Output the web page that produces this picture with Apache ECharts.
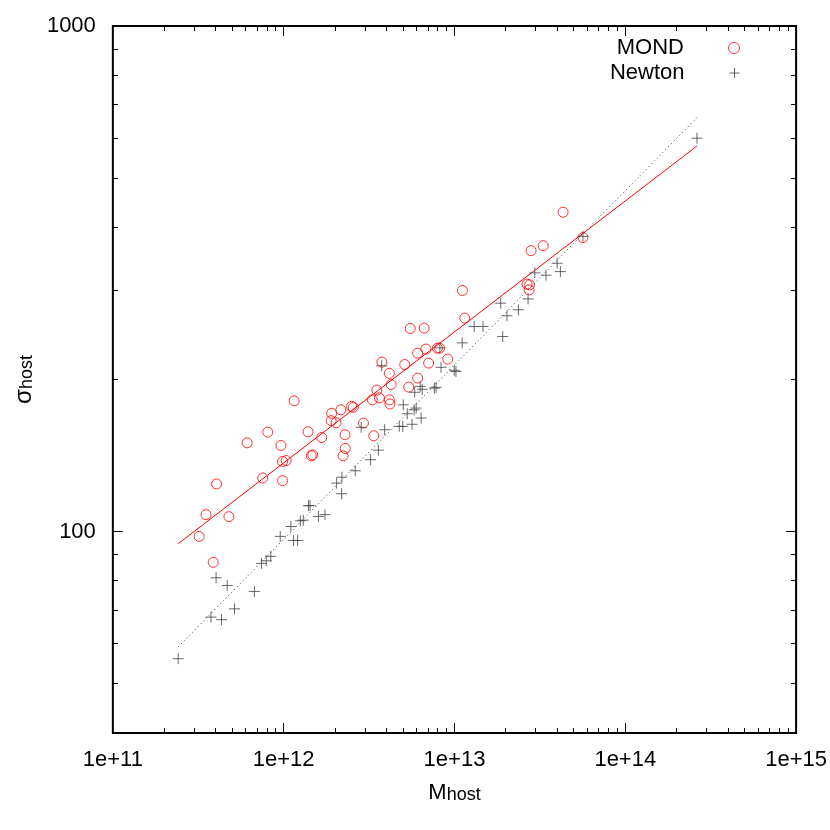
<!DOCTYPE html>
<html>
<head>
<meta charset="utf-8">
<script src="https://cdn.jsdelivr.net/npm/echarts@6/dist/echarts.min.js"></script>
<style>html,body{margin:0;padding:0;background:#fff}#chart{width:830px;height:830px}</style>
</head>
<body>
<div id="chart"></div>
<script>
// ---- data ----
const massMOND = [3.20e11,3.51e11,3.87e11,4.05e11,4.78e11,6.11e11,7.54e11,8.07e11,9.64e11,9.86e11,9.86e11,1.035e12,1.152e12,1.390e12,1.451e12,1.480e12,1.670e12,1.910e12,1.897e12,2.028e12,2.163e12,2.497e12,2.555e12,2.288e12,2.295e12,2.228e12,2.933e12,3.367e12,3.308e12,3.634e12,3.515e12,3.758e12,4.156e12,4.258e12,4.156e12,4.195e12,5.117e12,5.399e12,6.089e12,6.089e12,6.806e12,7.056e12,7.941e12,8.178e12,9.13e12,5.508e12,6.644e12,1.113e13,1.148e13,2.661e13,2.752e13,2.733e13,2.808e13,3.307e13,4.323e13,5.652e13];
const sigmaMOND = [97.9,108.1,87.0,124.3,107.1,149.9,127.7,157.4,148.1,126.2,137.7,138.3,181.5,157.6,141.3,141.9,153.6,171.5,165.8,164.3,174.2,177.0,176.2,155.5,146.1,141.3,164.0,154.8,182.3,183.9,190.6,216.5,205.7,195.5,182.3,178.9,214.1,193.2,201.3,225.5,229.7,215.5,230.7,230.7,219.5,252.3,252.7,299.9,264.5,308.7,307.7,300.8,359.5,367.9,428.3,381.6];
const massNewton = [2.413e11,3.755e11,4.022e11,4.329e11,4.673e11,5.153e11,6.74e11,7.42e11,7.906e11,8.407e11,9.548e11,1.102e12,1.143e12,1.207e12,1.252e12,1.303e12,1.397e12,1.427e12,1.598e12,1.746e12,2.184e12,2.042e12,2.193e12,2.624e12,3.229e12,3.585e12,2.844e12,3.902e12,3.748e12,4.753e12,4.981e12,5.643e12,6.381e12,5.013e12,5.291e12,5.81e12,5.968e12,5.85e12,6.297e12,6.469e12,7.627e12,7.803e12,8.344e12,9.973e12,1.02e13,1.11e13,8.211e12,1.304e13,1.469e13,1.865e13,1.916e13,2.03e13,2.368e13,2.697e13,2.954e13,3.434e13,3.99e13,4.17e13,5.652e13,2.627e14];
const sigmaNewton = [56.1,67.8,81.1,67.0,78.3,70.4,76.2,86.6,87.6,89.4,97.9,102.4,96.1,96.1,105.1,105.4,112.6,112.6,107.2,108.1,118.9,124.8,128.2,132.0,138.8,145.0,160.9,159.1,212.9,161.6,161.5,163.1,167.8,178.2,171.1,174.2,175.6,188.7,193.8,191.3,192.3,193.0,211.4,208.6,207.4,236.3,231.0,254.6,254.6,283.1,243.2,267.3,274.7,288.7,325.0,321.6,339.6,326.9,383.7,600.0];
// fitted relations (end points)
const fitMass = [2.413e11, 2.627e14];
const fitSigmaMOND = [94.7, 579];
const fitSigmaNewton = [59.2, 659];
// axes
const xMajorTicks = [1e11,1e12,1e13,1e14,1e15];
const xMinorTicks = [2e11,3e11,4e11,5e11,6e11,7e11,8e11,9e11,2e12,3e12,4e12,5e12,6e12,7e12,8e12,9e12,2e13,3e13,4e13,5e13,6e13,7e13,8e13,9e13,2e14,3e14,4e14,5e14,6e14,7e14,8e14,9e14];
const yMajorTicks = [100,1000];
const yMinorTicks = [50,60,70,80,90,200,300,400,500,600,700,800,900];
const seriesNames = ['MOND','Newton'];

const FONT = '"Liberation Sans", Arial, Helvetica, sans-serif';
const chart = echarts.init(document.getElementById('chart'));

function pairs(a,b){ return a.map((v,i)=>[v,b[i]]); }
function isPow10(v){ const l=Math.log10(v); return Math.abs(l-Math.round(l))<1e-6; }

function tickRender(dir){
  return function(params, api){
    const cs = params.coordSys;
    const len = api.value(2) ? 10 : 5;
    const p = api.coord([api.value(0), api.value(1)]);
    const st = {stroke:'#000', lineWidth:1};
    if (dir === 'x') {
      const x = Math.round(p[0]-0.5)+0.5;
      return {type:'group', children:[
        {type:'line', shape:{x1:x, y1:cs.y+cs.height, x2:x, y2:cs.y+cs.height-len}, style:st},
        {type:'line', shape:{x1:x, y1:cs.y, x2:x, y2:cs.y+len}, style:st}
      ]};
    } else {
      const y = Math.round(p[1]-0.5)+0.5;
      return {type:'group', children:[
        {type:'line', shape:{x1:cs.x, y1:y, x2:cs.x+len, y2:y}, style:st},
        {type:'line', shape:{x1:cs.x+cs.width, y1:y, x2:cs.x+cs.width-len, y2:y}, style:st}
      ]};
    }
  };
}

const xTickData = xMajorTicks.map(v=>[v,100,1]).concat(xMinorTicks.map(v=>[v,100,0]));
const yTickData = yMajorTicks.map(v=>[1e13,v,1]).concat(yMinorTicks.map(v=>[1e13,v,0]));

const richName = {
  m:{fontSize:22, lineHeight:22, verticalAlign:'top', color:'#000', fontFamily:FONT},
  s:{fontSize:18, lineHeight:18, verticalAlign:'bottom', padding:[9,0,0,0], color:'#000', fontFamily:FONT}
};
const richSigma = {
  m:{fontSize:24, lineHeight:24, verticalAlign:'top', color:'#000', fontFamily:FONT},
  s:{fontSize:18, lineHeight:18, verticalAlign:'bottom', padding:[10,0,0,0], color:'#000', fontFamily:FONT}
};

const legendBase = {orient:'vertical', align:'right', right:90, padding:0, itemWidth:90, selectedMode:false,
  textStyle:{fontSize:22, color:'#000', fontFamily:FONT}, itemStyle:{borderWidth:1}};

const option = {
  animation:false,
  backgroundColor:'#fff',
  textStyle:{fontFamily:FONT},
  grid:{left:110, right:33, top:26, bottom:97, show:true, borderColor:'#000', borderWidth:2, backgroundColor:'transparent'},
  legend:[
    Object.assign({}, legendBase, {data:[seriesNames[0]], top:37, itemHeight:11}),
    Object.assign({}, legendBase, {data:[seriesNames[1]], top:62, itemHeight:10})
  ],
  xAxis:{type:'log', logBase:10, min:1e11, max:1e15,
    axisLine:{show:false}, axisTick:{show:false}, splitLine:{show:false}, minorTick:{show:false},
    axisLabel:{formatter:v=>isPow10(v)?'1e+'+Math.round(Math.log10(v)):'', fontSize:22, color:'#000', margin:16, fontFamily:FONT, showMinLabel:true, showMaxLabel:true},
    name:'{m|M}{s|host}', nameLocation:'middle', nameGap:49, nameTextStyle:{rich:richName}
  },
  yAxis:{type:'log', logBase:10, min:40, max:1000,
    axisLine:{show:false}, axisTick:{show:false}, splitLine:{show:false}, minorTick:{show:false},
    axisLabel:{formatter:v=>isPow10(v)?String(Math.round(v)):'', fontSize:22, color:'#000', margin:17, fontFamily:FONT, showMinLabel:true, showMaxLabel:true},
    name:'{m|σ}{s|host}', nameLocation:'middle', nameRotate:90, nameGap:53, nameTextStyle:{rich:richSigma}
  },
  series:[
    {name:'MOND fit', type:'line', data:pairs(fitMass, fitSigmaMOND), symbol:'none', silent:true, z:2,
      lineStyle:{color:'#ff0000', width:1}},
    {name:'Newton fit', type:'line', data:pairs(fitMass, fitSigmaNewton), symbol:'none', silent:true, z:2,
      lineStyle:{color:'#333333', width:1, type:[1,3]}},
    {name:seriesNames[0], type:'scatter', data:pairs(massMOND, sigmaMOND), symbol:'circle', symbolSize:10, z:3,
      itemStyle:{color:'transparent', borderColor:'#ff0000', borderWidth:1}},
    {name:seriesNames[1], type:'scatter', data:pairs(massNewton, sigmaNewton), symbol:'path://M0,5H10M5,0V10', symbolSize:11, z:3,
      itemStyle:{color:'transparent', borderColor:'#444444', borderWidth:1}},
    {type:'custom', silent:true, data:xTickData, encode:{x:0,y:1}, renderItem:tickRender('x'), z:4},
    {type:'custom', silent:true, data:yTickData, encode:{x:0,y:1}, renderItem:tickRender('y'), z:4}
  ]
};
chart.setOption(option);
</script>
</body>
</html>
